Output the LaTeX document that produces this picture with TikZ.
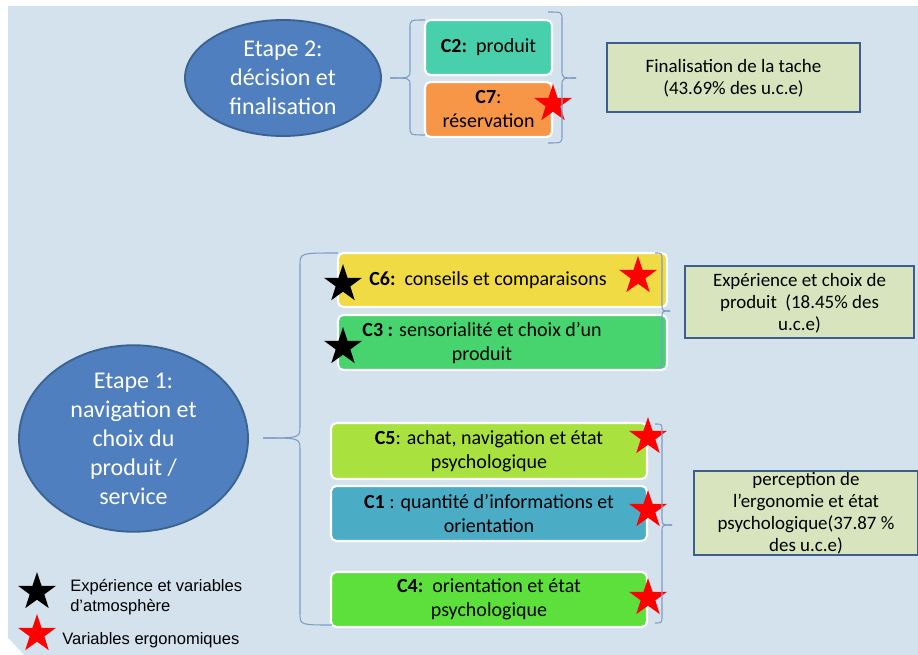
\documentclass[tikz,border=0pt]{standalone}
\usepackage{fontspec}
\setmainfont{Carlito}
\newfontfamily\legendfont{Liberation Sans}
\usetikzlibrary{shapes.geometric}
\definecolor{bgc}{HTML}{D3E2EC}
\definecolor{ellfill}{HTML}{4F7FBE}
\definecolor{ellborder}{HTML}{3A6394}
\definecolor{rfill}{HTML}{D7E4BD}
\definecolor{rborder}{HTML}{3E5C8C}
\definecolor{bracec}{HTML}{7E9CC6}
\definecolor{cteal}{HTML}{48D0AD}
\definecolor{corange}{HTML}{F79646}
\definecolor{cyellow}{HTML}{F1DB44}
\definecolor{cgreen}{HTML}{47D46F}
\definecolor{clime}{HTML}{A9E23E}
\definecolor{cblue}{HTML}{4BACC6}
\definecolor{cgreenb}{HTML}{5DE03C}
\begin{document}
\begin{tikzpicture}[x=0.75pt,y=-0.75pt,
  etape/.style={ellipse, draw=ellborder, line width=1.4pt, fill=ellfill, text=white, align=center, inner sep=0pt, font=\fontsize{18}{21.8}\selectfont},
  cbox/.style={rectangle, rounded corners=4pt, draw=white, line width=1.6pt, align=center, inner sep=0pt, font=\fontsize{15}{18}\selectfont},
  ctext/.style={align=center, inner sep=0pt, font=\fontsize{15}{18}\selectfont},
  rbox/.style={rectangle, draw=rborder, line width=1.7pt, fill=rfill, inner sep=0pt},
  rtext/.style={align=center, inner sep=0pt, font=\fontsize{14.2}{16.5}\selectfont},
  rstar/.style={star, star points=5, star point ratio=2.6, fill=red, draw=none, minimum size=30pt, inner sep=0pt},
  bstar/.style={star, star points=5, star point ratio=2.6, fill=black, draw=none, minimum size=30pt, inner sep=0pt},
  bracel/.style={draw=bracec, line width=0.8pt},
  legtext/.style={anchor=west, align=left, inner sep=0pt, font=\legendfont\fontsize{12.4}{15}\selectfont}]
\useasboundingbox (0,0) rectangle (918,655);
\fill[bgc] (8,6) rectangle (918,655);
\fill[white] (8,638) -- (24,655) -- (8,655) -- cycle;

% Etape 2
\node[etape, minimum width=147pt, minimum height=87pt] (e2) at (283,78) {Etape 2:\\décision et\\finalisation};
\node[cbox, fill=cteal, minimum width=95.25pt, minimum height=41.25pt] (c2) at (488.5,47.5) {\textbf{C2:}\ \ produit};
\node[cbox, fill=corange, minimum width=95.25pt, minimum height=41.25pt] (c7) at (488.5,109.5) {\textbf{C7}:\\réservation};
\node[rstar] (s7) at (553,104) {};
\node[rbox, minimum width=189.75pt, minimum height=51.75pt] (r1) at (733.5,77.5) {};
\node[rtext] (r1t) at (733.5,78) {Finalisation de la tache\\(43.69\% des u.c.e)};

% braces etape 2
\coordinate (ba) at (390,78);
\draw[bracel] (425,20) .. controls (410,20) .. (410,28) -- (410,70) .. controls (410,78) .. (ba);
\draw[bracel] (ba) .. controls (410,78) .. (410,86) -- (410,127) .. controls (410,135) .. (425,135);
\coordinate (bb) at (576,78);
\draw[bracel] (548,12) .. controls (562,12) .. (562,20) -- (562,70) .. controls (562,78) .. (bb);
\draw[bracel] (bb) .. controls (562,78) .. (562,86) -- (562,135) .. controls (562,143) .. (548,143);

% Etape 1
\node[etape, minimum width=171.75pt, minimum height=117.75pt] (e1) at (133.5,438.5) {Etape 1:\\navigation et\\choix du\\produit /\\service};

\node[cbox, fill=cyellow, minimum width=246.75pt, minimum height=40.5pt] (c6) at (502.5,280) {};
\node[ctext] (c6t) at (488,280) {\textbf{C6:}\ \ conseils et comparaisons};
\node[cbox, fill=cgreen, minimum width=246.75pt, minimum height=41.25pt] (c3) at (502.5,342.5) {};
\node[ctext] (c3t) at (482,343) {\textbf{C3 :} sensorialité et choix d’un\\produit};
\node[bstar] (s6b) at (343,284) {};
\node[rstar] (s6r) at (638,276) {};
\node[bstar] (s3b) at (343,347) {};

\node[cbox, fill=clime, minimum width=237pt, minimum height=42pt] (c5) at (489,451) {\textbf{C5}: achat, navigation et état\\psychologique};
\node[cbox, fill=cblue, minimum width=237pt, minimum height=41.25pt] (c1) at (489,513.5) {\textbf{C1} : quantité d’informations et\\orientation};
\node[cbox, fill=cgreenb, minimum width=237pt, minimum height=41.25pt] (c4) at (489,599.5) {\textbf{C4:}\ \ orientation et état\\psychologique};
\node[rstar] (s5) at (648,437) {};
\node[rstar] (s1) at (648,510) {};
\node[rstar] (s4) at (648,598) {};

\node[rbox, minimum width=171.75pt, minimum height=54pt] (r2) at (799.5,302) {};
\node[rtext] (r2t) at (799.5,303) {Expérience et choix de\\produit\ \ (18.45\% des\\u.c.e)};
\node[rbox, minimum width=168pt, minimum height=63pt] (r3) at (806,513) {};
\node[rtext] (r3t) at (806,513) {perception\ de\\l’ergonomie et état\\psychologique(37.87 \%\\des u.c.e)};

% braces etape 1
\coordinate (bc) at (263,438);
\draw[bracel] (338,253) .. controls (300,253) .. (300,265) -- (300,426) .. controls (300,438) .. (bc);
\draw[bracel] (bc) .. controls (300,438) .. (300,450) -- (300,613) .. controls (300,625) .. (332,625);
\coordinate (bd) at (670,311);
\draw[bracel] (655,253) .. controls (662,253) .. (662,260) -- (662,304) .. controls (662,311) .. (bd);
\draw[bracel] (bd) .. controls (662,311) .. (662,318) -- (662,361) .. controls (662,368) .. (655,368);
\coordinate (be) at (672,525);
\draw[bracel] (655,424) .. controls (662,424) .. (662,431) -- (662,518) .. controls (662,525) .. (be);
\draw[bracel] (be) .. controls (662,525) .. (662,532) -- (662,616) .. controls (662,623) .. (655,623);

% legend
\node[bstar] (lb) at (37,592) {};
\node[legtext] (lbt) at (70,597) {Expérience et variables\\d’atmosphère};
\node[rstar] (lr) at (37,634) {};
\node[legtext] (lrt) at (62,640) {Variables ergonomiques};
\end{tikzpicture}
\end{document}
